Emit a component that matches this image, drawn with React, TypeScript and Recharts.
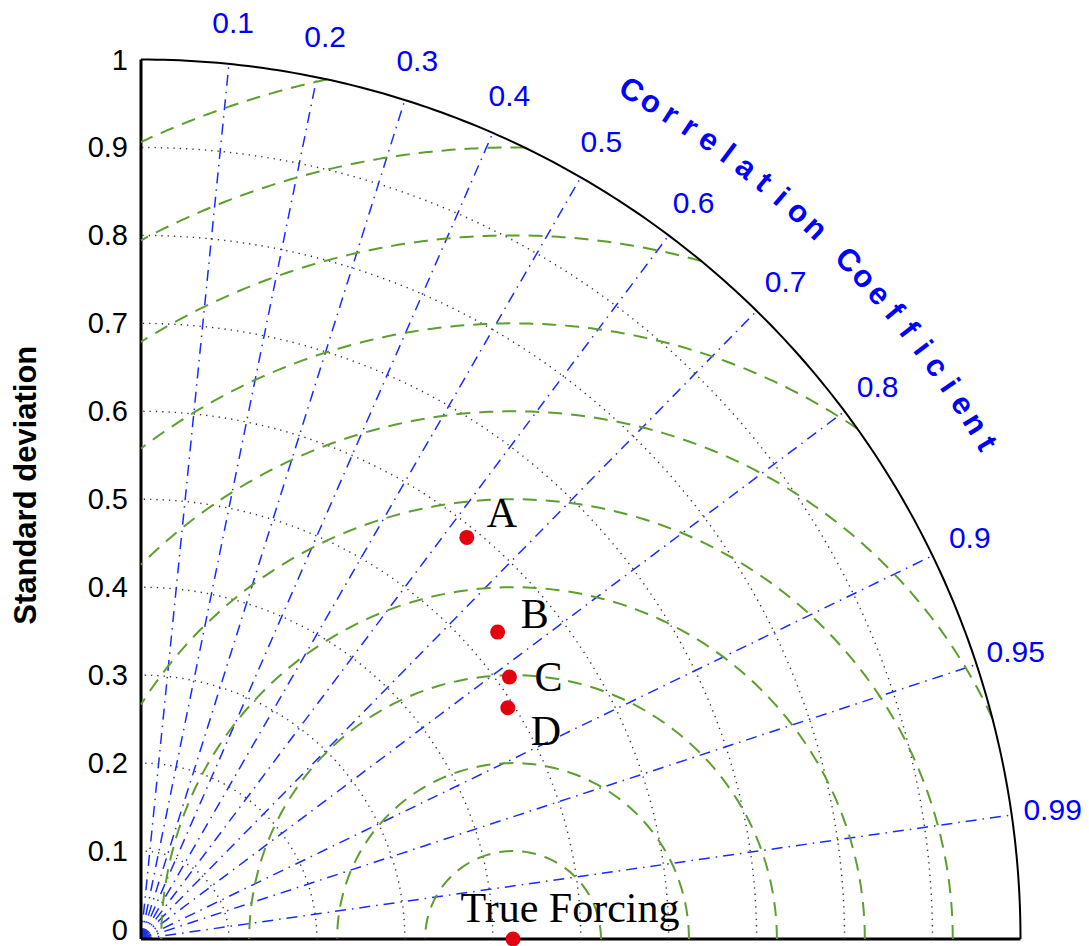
import React from "react";
import { ScatterChart, Scatter, XAxis, YAxis, ReferenceLine, ReferenceDot } from "recharts";

// model statistics (std deviation + correlation)
const modelNames = ["A", "B", "C", "D"];
const modelStd = [0.588, 0.535, 0.514, 0.493];
const modelCorr = [0.63, 0.758, 0.815, 0.846];

const refName = "True Forcing";
const refStd = 0.423;

// grid
const stdTicks = [0, 0.1, 0.2, 0.3, 0.4, 0.5, 0.6, 0.7, 0.8, 0.9, 1];
const stdArcs = [0.1, 0.2, 0.3, 0.4, 0.5, 0.6, 0.7, 0.8, 0.9];
const rmsArcs = [0.1, 0.2, 0.3, 0.4, 0.5, 0.6, 0.7, 0.8, 0.9, 1.0];
const corrTicks = [0.1, 0.2, 0.3, 0.4, 0.5, 0.6, 0.7, 0.8, 0.9, 0.95, 0.99];
const corrTitle = "Correlation Coefficient";

const BLUE = "#0000ff";
const BLUE_LINE = "#1a2bff";
const GREEN = "#5e9e2f";
const RED = "#e3000f";
const SANS = "Liberation Sans, Arial, Helvetica, sans-serif";
const SERIF = "Liberation Serif, Times New Roman, serif";

const clamp01 = (v: number) => Math.min(1, Math.max(0, v));

// points along a circle centred on (cx, 0), from angle t0 to t1
const arc = (cx: number, r: number, t0: number, t1: number, n = 120) =>
  Array.from({ length: n + 1 }, (_, i) => {
    const t = t0 + ((t1 - t0) * i) / n;
    return { x: clamp01(cx + r * Math.cos(t)), y: clamp01(r * Math.sin(t)) };
  });

// rms circles around the reference, kept inside the quarter disc
const rmsArc = (r: number) => {
  const c = refStd;
  const tMax = r > c ? Math.acos(-c / r) : Math.PI;
  const k = (1 - c * c - r * r) / (2 * c * r);
  const tMin = k >= 1 ? 0 : Math.acos(k);
  return arc(c, r, tMin, tMax);
};

const polar = (r: number, corr: number) => ({
  x: r * corr,
  y: r * Math.sqrt(1 - corr * corr),
});

const points = modelNames.map((name, i) => ({ ...polar(modelStd[i], modelCorr[i]), name }));
const refPoint = [{ x: refStd, y: 0, name: refName }];

const labelOffset: Record<string, [number, number]> = {
  A: [35, -24],
  B: [37, -18],
  C: [39, 0],
  D: [38, 23],
  "True Forcing": [57, -31],
};

const noDot = () => <g />;

const PointShape = (props: any) => {
  const { cx, cy, payload } = props;
  const [dx, dy] = labelOffset[payload.name] || [30, 0];
  return (
    <g>
      <circle cx={cx} cy={cy} r={7.5} fill={RED} />
      <text
        x={cx + dx}
        y={cy + dy}
        textAnchor="middle"
        dominantBaseline="central"
        fontFamily={SERIF}
        fontSize={42}
        fill="#000"
      >
        {payload.name}
      </text>
    </g>
  );
};

const StdTick = (props: any) => {
  const { x, y, payload } = props;
  const shift = payload.value === 0 ? -9 : 0;
  return (
    <text
      x={x}
      y={y + shift}
      textAnchor="end"
      dominantBaseline="central"
      fontFamily={SANS}
      fontSize={29}
      fill="#000"
    >
      {String(payload.value)}
    </text>
  );
};

const yTitle = (props: any) => {
  const vb = props.viewBox || { x: 41, y: 60, width: 100, height: 880 };
  const x = vb.x - 16;
  const y = vb.y + vb.height / 2 - 14;
  return (
    <text
      x={x}
      y={y}
      transform={`rotate(-90 ${x} ${y})`}
      textAnchor="middle"
      dominantBaseline="central"
      fontFamily={SANS}
      fontWeight={700}
      fontSize={31}
      fill="#000"
    >
      Standard deviation
    </text>
  );
};

// title letters sit on a circle outside the diagram
const titleStart = 59.97;
const titleStep = 1.346;
const titleRadius = 1.115;

export default function App() {
  return (
    <div style={{ position: "fixed", top: 0, left: 0, width: 1089, height: 946, overflow: "hidden", background: "#fff" }}>
      <ScatterChart width={1089} height={1000} margin={{ top: 59.5, right: 68.5, bottom: 31, left: 41 }}>
        <XAxis
          type="number"
          dataKey="x"
          domain={[0, 1]}
          ticks={stdTicks}
          tick={false}
          tickSize={5}
          height={30}
          axisLine={{ stroke: "#000", strokeWidth: 3 }}
          tickLine={{ stroke: "#000", strokeWidth: 1 }}
        />
        <YAxis
          type="number"
          dataKey="y"
          domain={[0, 1]}
          ticks={stdTicks}
          width={100}
          tickSize={0}
          tickMargin={13}
          tickLine={false}
          axisLine={{ stroke: "#000", strokeWidth: 3 }}
          tick={<StdTick />}
          label={yTitle}
        />

        {/* std deviation arcs */}
        {stdArcs.map((r) => (
          <Scatter
            key={`s${r}`}
            data={arc(0, r, 0, Math.PI / 2, 90)}
            fill="#333"
            line={{ stroke: "#333", strokeWidth: 1.4, strokeDasharray: "1.3 5" }}
            shape={noDot}
            legendType="none"
            isAnimationActive={false}
          />
        ))}

        {/* rms difference arcs */}
        {rmsArcs.map((r) => (
          <Scatter
            key={`g${r}`}
            data={rmsArc(r)}
            fill={GREEN}
            line={{ stroke: GREEN, strokeWidth: 2, strokeDasharray: "14 9" }}
            shape={noDot}
            legendType="none"
            isAnimationActive={false}
          />
        ))}

        {/* correlation rays */}
        {corrTicks.map((c) => (
          <ReferenceLine
            key={`c${c}`}
            segment={[{ x: 0, y: 0 }, polar(1, c)]}
            stroke={BLUE_LINE}
            strokeWidth={1.5}
            strokeDasharray="11 6 1.5 6"
          />
        ))}

        {/* outer boundary */}
        <Scatter
          data={arc(0, 1, 0, Math.PI / 2, 180)}
          fill="#000"
          line={{ stroke: "#000", strokeWidth: 2 }}
          shape={noDot}
          legendType="none"
          isAnimationActive={false}
        />

        {corrTicks.map((c) => {
          const p = polar(1.047, c);
          return (
            <ReferenceDot
              key={`cl${c}`}
              x={p.x}
              y={p.y}
              ifOverflow="visible"
              shape={(sp: any) => (
                <text
                  x={sp.cx}
                  y={sp.cy}
                  textAnchor="middle"
                  dominantBaseline="central"
                  fontFamily={SANS}
                  fontSize={30}
                  fill={BLUE}
                >
                  {String(c)}
                </text>
              )}
            />
          );
        })}

        {corrTitle.split("").map((ch, i) => {
          if (ch === " ") return null;
          const deg = titleStart - i * titleStep;
          const rad = (deg * Math.PI) / 180;
          const p = { x: titleRadius * Math.cos(rad), y: titleRadius * Math.sin(rad) };
          return (
            <ReferenceDot
              key={`t${i}`}
              x={p.x}
              y={p.y}
              ifOverflow="visible"
              shape={(sp: any) => (
                <text
                  x={sp.cx}
                  y={sp.cy}
                  transform={`rotate(${90 - deg} ${sp.cx} ${sp.cy})`}
                  textAnchor="middle"
                  dominantBaseline="central"
                  fontFamily={SANS}
                  fontWeight={700}
                  fontSize={31}
                  fill={BLUE}
                >
                  {ch}
                </text>
              )}
            />
          );
        })}

        <Scatter data={points} shape={<PointShape />} legendType="none" isAnimationActive={false} />
        <Scatter data={refPoint} shape={<PointShape />} legendType="none" isAnimationActive={false} />
      </ScatterChart>
    </div>
  );
}
